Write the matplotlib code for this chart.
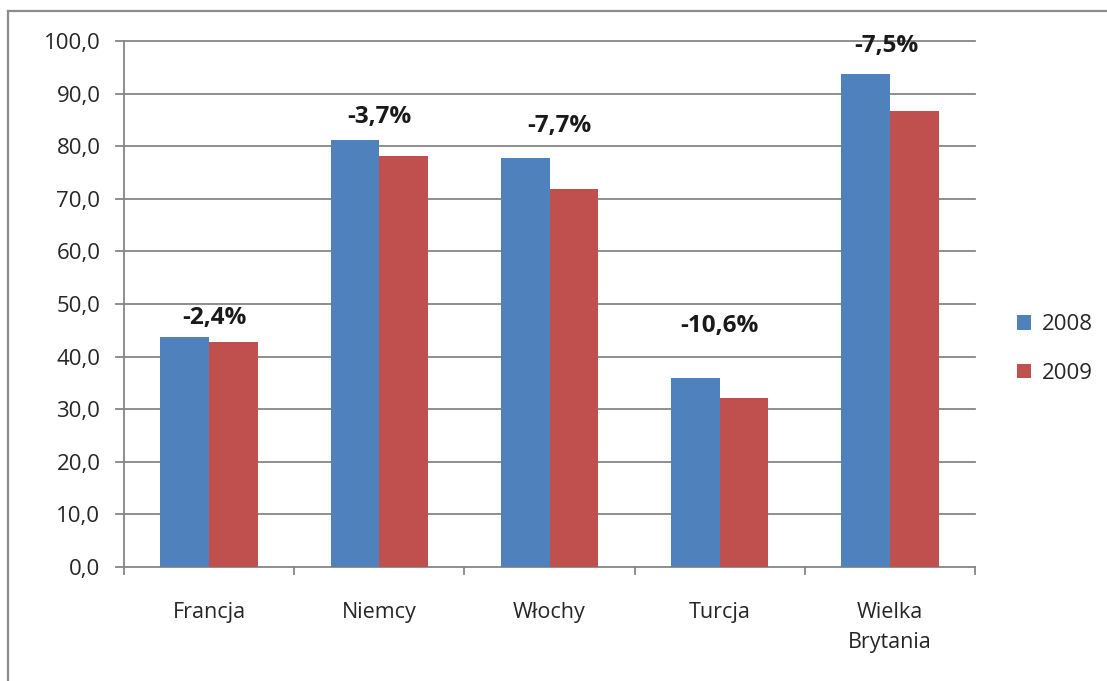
import matplotlib
matplotlib.use("Agg")
import matplotlib.pyplot as plt
from matplotlib.lines import Line2D
from matplotlib.patches import Patch
import numpy as np

# Data
categories = ["Francja", "Niemcy", "Włochy", "Turcja", "Wielka\nBrytania"]
values_2008 = [43.8, 81.1, 77.8, 35.9, 93.7]
values_2009 = [42.7, 78.1, 71.8, 32.1, 86.6]
change_labels = ["-2,4%", "-3,7%", "-7,7%", "-10,6%", "-7,5%"]
label_heights = [47.3, 85.5, 83.9, 45.8, 99.0]
label_offsets = [0.03, 0.0, 0.06, 0.0, -0.02]
series_names = ["2008", "2009"]
yticks = [0, 10, 20, 30, 40, 50, 60, 70, 80, 90, 100]

blue = "#4f81bd"
red = "#c0504d"
grid_color = "#868686"
text_color = "#262626"

plt.rcParams["font.family"] = ["Open Sans", "DejaVu Sans"]

fig = plt.figure(figsize=(11.07, 6.81), dpi=100)
ax = fig.add_axes([124 / 1107, 1 - 567 / 681, (975 - 124) / 1107, (567 - 41) / 681])

x = np.arange(len(categories))
width = 1 / 3.5
ax.bar(x - width / 2, values_2008, width, color=blue, zorder=3)
ax.bar(x + width / 2, values_2009, width, color=red, zorder=3)

ax.set_xlim(-0.5, len(categories) - 0.5)
ax.set_ylim(0, 100)

# Horizontal gridlines extending slightly left of the axis (Excel-style tick marks)
for v in yticks:
    ax.plot([-0.5 - 8 / 170.2, len(categories) - 0.5], [v, v], color=grid_color,
            lw=1.3, zorder=1, clip_on=False)

ax.set_yticks(yticks)
ax.set_yticklabels([f"{v:.1f}".replace(".", ",") for v in yticks],
                   fontsize=16, color=text_color)
ax.tick_params(axis="y", length=0, pad=17)

# Category boundary tick marks on the x axis
ax.set_xticks(x)
ax.set_xticklabels(categories, fontsize=15.5, color=text_color, linespacing=1.55)
ax.tick_params(axis="x", length=0, pad=25)
for b in np.arange(-0.5, len(categories), 1.0):
    ax.plot([b, b], [0, -1.4], color=grid_color, lw=1.3, clip_on=False, zorder=2)

for s in ["top", "right", "bottom"]:
    ax.spines[s].set_visible(False)
ax.spines["left"].set_color(grid_color)
ax.spines["left"].set_linewidth(1.3)
ax.spines["left"].set_zorder(4)

# Percentage change annotations
for i, (lab, h, off) in enumerate(zip(change_labels, label_heights, label_offsets)):
    ax.text(i + off, h, lab, ha="center", va="center", fontsize=17.5,
            fontweight="bold", color="#1a1a1a", zorder=5)

handles = [Patch(facecolor=blue), Patch(facecolor=red)]
fig.legend(handles, series_names, loc="center left",
           bbox_to_anchor=(997 / 1107, 1 - 349 / 681), frameon=False,
           fontsize=16, handlelength=0.65, handleheight=0.65, handletextpad=0.45,
           labelspacing=1.25, labelcolor=text_color)

# Outer chart frame
fig.add_artist(Line2D([8 / 1107, 8 / 1107], [0, 1 - 11 / 681], color="#8c8c8c",
                      lw=1.6, transform=fig.transFigure))
fig.add_artist(Line2D([8 / 1107, 1], [1 - 11 / 681, 1 - 11 / 681], color="#8c8c8c",
                      lw=1.6, transform=fig.transFigure))

fig.savefig("out.png", dpi=100)
